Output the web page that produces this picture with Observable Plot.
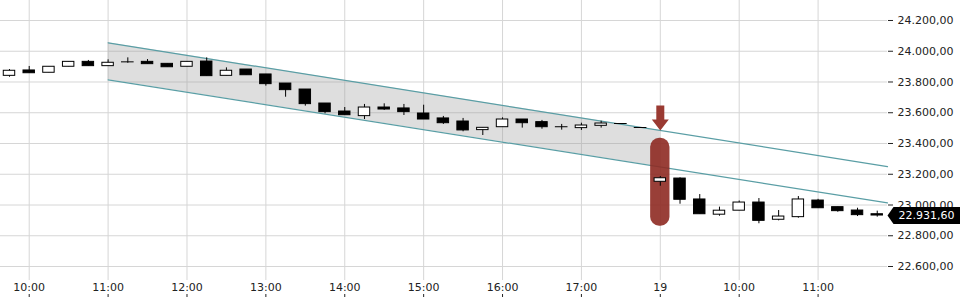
<!DOCTYPE html>
<html><head><meta charset="utf-8">
<script src="https://cdn.jsdelivr.net/npm/d3@7"></script>
<script src="https://cdn.jsdelivr.net/npm/@observablehq/plot@0.6"></script>
<style>html,body{margin:0;padding:0;background:#fff;}</style>
</head><body><div id="chart"></div>
<script>
// 15-minute candles, index 0 = 09:45 (day 1) ... index 44 = 11:45 (day 2)
const opens  = [23840,23875,23860,23899,23931,23903,23931,23931,23918,23899,23933,23840,23881,23849,23790,23751,23660,23608,23578,23634,23628,23595,23563,23543,23487,23506,23556,23539,23509,23500,23515,23530,23504,23151,23172,23036,22937,22963,23016,22904,22921,23029,22986,22964,22940];
const highs  = [23881,23901,23899,23931,23940,23944,23957,23946,23918,23931,23957,23892,23881,23849,23790,23751,23660,23634,23654,23658,23654,23649,23576,23563,23502,23567,23556,23550,23524,23532,23545,23530,23504,23185,23177,23068,22986,23026,23042,22964,23055,23037,22986,22979,22960];
const lows   = [23831,23857,23860,23899,23903,23903,23922,23916,23896,23899,23838,23840,23844,23773,23701,23643,23593,23584,23556,23615,23582,23556,23524,23476,23452,23506,23500,23493,23487,23485,23500,23530,23504,23122,23005,22940,22927,22963,22878,22897,22914,22979,22953,22925,22921];
const closes = [23873,23857,23899,23931,23903,23925,23931,23916,23896,23931,23838,23873,23844,23786,23747,23656,23604,23584,23634,23621,23604,23556,23532,23485,23502,23556,23532,23506,23509,23517,23530,23530,23504,23174,23034,22940,22963,23016,22897,22925,23036,22979,22960,22934,22931.6];

const xTickIndex  = [1,5,9,13,17,21,25,29,33,37,41];
const xTickLabels = ["10:00","11:00","12:00","13:00","14:00","15:00","16:00","17:00","19","10:00","11:00"];
const yTicks = [22600,22800,23000,23200,23400,23600,23800,24000,24200];

// trend channel (start/end index and values)
const channelIdx   = [5, 44.52];
const channelUpper = [24055, 23250];
const channelLower = [23814, 23014];
const channelFillEnd = 33;

// signal annotation
const signalIdx = 33;
const signalBox = [22862, 23434];
const arrowTip = 23485;

const xDomain = [-0.456, 44.52];
const yDomain = [22509, 24330];

const fmt = d3.formatLocale({decimal: ",", thousands: ".", grouping: [3], currency: ["", ""]}).format(",.2f");

const candles = opens.map((o, i) => ({i, o, h: highs[i], l: lows[i], c: closes[i]}));
const bodies = candles.filter(d => d.o !== d.c);
const dojis = candles.filter(d => d.o === d.c);

const lerp = (vals, t) => vals[0] + (vals[1] - vals[0]) * (t - channelIdx[0]) / (channelIdx[1] - channelIdx[0]);
const fillData = [channelIdx[0], channelFillEnd].map(i => ({i, lo: lerp(channelLower, i), hi: lerp(channelUpper, i)}));
const upperLine = channelIdx.map((i, k) => ({i, v: channelUpper[k]}));
const lowerLine = channelIdx.map((i, k) => ({i, v: channelLower[k]}));

const arrowSymbol = {draw(ctx) {
  ctx.moveTo(0, 0); ctx.lineTo(-8.5, -11); ctx.lineTo(-4, -11); ctx.lineTo(-4, -25);
  ctx.lineTo(4, -25); ctx.lineTo(4, -11); ctx.lineTo(8.5, -11); ctx.closePath();
}};
const priceTag = {draw(ctx) {
  ctx.moveTo(0, 0); ctx.lineTo(6, -8.5); ctx.lineTo(74, -8.5); ctx.lineTo(74, 8.5); ctx.lineTo(6, 8.5); ctx.closePath();
}};
const last = {i: xDomain[1], c: closes[closes.length - 1]};
const hw = 0.29;

const chart = Plot.plot({
  width: 960, height: 300,
  marginLeft: 0, marginRight: 73, marginTop: 0, marginBottom: 20,
  style: {fontFamily: "DejaVu Sans", fontSize: "11px", color: "#222", background: "#fff"},
  x: {domain: xDomain},
  y: {domain: yDomain},
  marks: [
    Plot.gridY(yTicks, {stroke: "#d6d6d6", strokeOpacity: 1}),
    Plot.gridX(xTickIndex, {stroke: "#d6d6d6", strokeOpacity: 1}),
    Plot.areaY(fillData, {x: "i", y1: "lo", y2: "hi", fill: "#999", fillOpacity: 0.32}),
    Plot.line(upperLine, {x: "i", y: "v", stroke: "#5a9ea5", strokeWidth: 1.2}),
    Plot.line(lowerLine, {x: "i", y: "v", stroke: "#5a9ea5", strokeWidth: 1.2}),
    Plot.rect([signalIdx], {x1: d => d - 0.49, x2: d => d + 0.49, y1: signalBox[0], y2: signalBox[1], rx: 9, fill: "#8e2a22", fillOpacity: 0.9}),
    Plot.ruleX(candles, {x: "i", y1: "l", y2: "h", stroke: "#000", strokeWidth: 1}),
    Plot.rect(bodies, {x1: d => d.i - hw, x2: d => d.i + hw, y1: "o", y2: "c", fill: d => d.c > d.o ? "#fff" : "#000", stroke: "#000", strokeWidth: 1}),
    Plot.ruleY(dojis, {y: "c", x1: d => d.i - hw - 0.03, x2: d => d.i + hw + 0.03, stroke: "#000", strokeWidth: 1}),
    Plot.dot([signalIdx], {x: d => d, y: arrowTip, symbol: arrowSymbol, r: 5, fill: "#9a3a32", stroke: "none"}),
    Plot.axisX(xTickIndex, {tickSize: 0, tickPadding: 3, tickFormat: (d) => xTickLabels[xTickIndex.indexOf(d)], label: null}),
    Plot.axisX(xTickIndex, {tickSize: 3, tickPadding: 0, tickFormat: () => "", dy: 14, label: null}),
    Plot.axisY(yTicks, {anchor: "right", tickSize: 5, tickPadding: 5, tickFormat: fmt, label: null}),
    Plot.dot([last], {x: "i", y: "c", symbol: priceTag, r: 5, fill: "#000", stroke: "none"}),
    Plot.text([last], {x: "i", y: "c", text: d => fmt(d.c), dx: 11, textAnchor: "start", fill: "#fff", fontSize: 11})
  ]
});
document.getElementById("chart").appendChild(chart);
</script>
</body></html>
